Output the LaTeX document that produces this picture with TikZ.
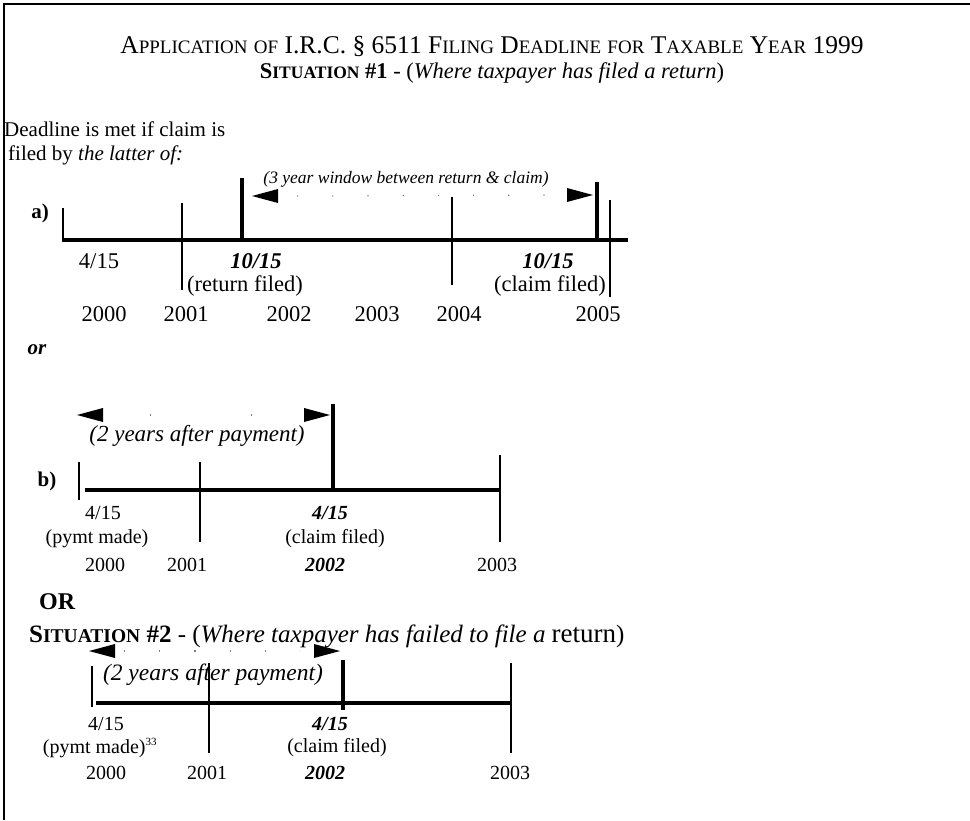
\documentclass[tikz,border=0pt]{standalone}
\usepackage{fontspec}
\setmainfont{Liberation Serif}
\newcommand\lc[1]{{\fontsize{19}{19}\selectfont #1}}
\newcommand\lcb[1]{{\fontsize{17.5}{17.5}\selectfont #1}}
\newcommand\lcc[1]{{\fontsize{19.5}{19.5}\selectfont #1}}
\begin{document}
\begin{tikzpicture}[x=1pt,y=-1pt,
  txt/.style={inner sep=0pt,font=\fontsize{21}{23}\selectfont},
  lab/.style={inner sep=0pt,font=\fontsize{22.5}{24}\selectfont},
  labbi/.style={inner sep=0pt,font=\fontsize{22.5}{24}\selectfont\bfseries\itshape},
  slab/.style={inner sep=0pt,font=\fontsize{20}{22}\selectfont},
  slabbi/.style={inner sep=0pt,font=\fontsize{20}{22}\selectfont\bfseries\itshape},
  axis/.style={line width=4pt},
  tick/.style={line width=1.2pt},
  bar/.style={line width=4.5pt},
  arrhead/.style={fill=black,draw=none},
  dots/.style={gray,line width=1.2pt,dash pattern=on 1.2pt off 34pt},
  frame/.style={line width=2.5pt}]
\useasboundingbox (0,0) rectangle (970,820);
% frame
\coordinate (fbl) at (4,820);
\coordinate (ftl) at (4,4);
\coordinate (ftr) at (970,4);
\draw[frame] (fbl) -- (ftl) -- (ftr);

% titles
\node[inner sep=0pt,font=\fontsize{25.5}{27}\selectfont] (t1) at (492,46)
  {A\lc{PPLICATION} \lc{OF} I.R.C. \S\ 6511 F\lc{ILING} D\lc{EADLINE} \lc{FOR} T\lc{AXABLE} Y\lc{EAR} 1999};
\node[inner sep=0pt,font=\fontsize{22.5}{24}\selectfont] (t2) at (492,73)
  {{\bfseries S\lcb{ITUATION} \#1} - (\textit{Where taxpayer has filed a return})};

\node[txt,anchor=west] (d1) at (4,129) {Deadline is met if claim is};
\node[txt,anchor=west] (d2) at (8,155) {filed by \textit{the latter of:}};

% ---------- timeline a ----------
\node[txt,font=\fontsize{21}{23}\selectfont\bfseries] (la) at (40,213) {a)};
\coordinate (a0) at (63,240);
\coordinate (a1) at (628,240);
\draw[axis] (a0) -- (a1);
\coordinate (at1a) at (63,208); \coordinate (at1b) at (63,242);
\coordinate (at2a) at (182,203); \coordinate (at2b) at (182,290);
\coordinate (at3a) at (452,197); \coordinate (at3b) at (452,285);
\coordinate (at4a) at (610,200); \coordinate (at4b) at (610,297);
\draw[tick] (at1a) -- (at1b);
\draw[tick] (at2a) -- (at2b);
\draw[tick] (at3a) -- (at3b);
\draw[tick] (at4a) -- (at4b);
\coordinate (ab1a) at (242,178); \coordinate (ab1b) at (242,240);
\coordinate (ab2a) at (597,182); \coordinate (ab2b) at (597,240);
\draw[bar] (ab1a) -- (ab1b);
\draw[bar] (ab2a) -- (ab2b);
\coordinate (aL) at (252,196); \coordinate (aR) at (593,195);
\fill[arrhead] (aL) -- ++(26,-7) -- ++(0,14) -- cycle;
\fill[arrhead] (aR) -- ++(-26,-7) -- ++(0,14) -- cycle;
\draw[dots] ([xshift=45pt]aL) -- ([xshift=-40pt]aR);
\node[inner sep=0pt,font=\fontsize{17.5}{19}\selectfont\itshape] (win) at (406,179) {(3 year window between return \& claim)};
\node[lab] (a415) at (99,261) {4/15};
\node[labbi] (a1015a) at (256,261) {10/15};
\node[lab] (aret) at (245,286) {(return filed)};
\node[labbi] (a1015b) at (548,261) {10/15};
\node[lab] (acl) at (550,286) {(claim filed)};
\node[lab] (ay0) at (104,314) {2000};
\node[lab] (ay1) at (186,314) {2001};
\node[lab] (ay2) at (289,314) {2002};
\node[lab] (ay3) at (377,314) {2003};
\node[lab] (ay4) at (459,314) {2004};
\node[lab] (ay5) at (598,314) {2005};

\node[txt,font=\fontsize{21}{23}\selectfont\bfseries\itshape] (or1) at (37,350) {or};

% ---------- timeline b ----------
\node[txt,font=\fontsize{21}{23}\selectfont\bfseries] (lb) at (47,481) {b)};
\coordinate (b0) at (85,490);
\coordinate (b1) at (500,490);
\draw[axis] (b0) -- (b1);
\coordinate (bt1a) at (79,462); \coordinate (bt1b) at (79,500);
\coordinate (bt2a) at (200,462); \coordinate (bt2b) at (200,542);
\coordinate (bt3a) at (500,455); \coordinate (bt3b) at (500,542);
\draw[tick] (bt1a) -- (bt1b);
\draw[tick] (bt2a) -- (bt2b);
\draw[tick] (bt3a) -- (bt3b);
\coordinate (bb1a) at (333,404); \coordinate (bb1b) at (333,490);
\draw[bar] (bb1a) -- (bb1b);
\coordinate (bL) at (77,415); \coordinate (bR) at (330,415);
\fill[arrhead] (bL) -- ++(26,-7) -- ++(0,14) -- cycle;
\fill[arrhead] (bR) -- ++(-26,-7) -- ++(0,14) -- cycle;
\draw[gray,line width=1.2pt,dash pattern=on 1.2pt off 100pt] ([xshift=73pt]bL) -- ([xshift=-60pt]bR);
\node[inner sep=0pt,font=\fontsize{23}{25}\selectfont\itshape] (b2y) at (197,436) {(2 years after payment)};
\node[slab] (b415) at (103,513) {4/15};
\node[slab] (bpy) at (97,539) {(pymt made)};
\node[slab] (by0) at (105,565) {2000};
\node[slab] (by1) at (187,565) {2001};
\node[slabbi] (b415c) at (330,513) {4/15};
\node[slab] (bcl) at (335,539) {(claim filed)};
\node[slabbi] (by2) at (325,565) {2002};
\node[slab] (by3) at (497,565) {2003};

\node[txt,font=\fontsize{24}{26}\selectfont\bfseries,anchor=west] (or2) at (39,602) {OR};

% ---------- situation 2 ----------
\node[inner sep=0pt,font=\fontsize{25}{27}\selectfont,anchor=west] (s2) at (29,636)
  {{\bfseries S\lcc{ITUATION} \#2} - (\textit{Where taxpayer has failed to file a} {\fontsize{27}{27}\selectfont return})};
\coordinate (c0) at (96,703);
\coordinate (c1) at (511,703);
\draw[axis] (c0) -- (c1);
\coordinate (ct1a) at (92,666); \coordinate (ct1b) at (92,707);
\coordinate (ct2a) at (209,663); \coordinate (ct2b) at (209,753);
\coordinate (ct3a) at (511,663); \coordinate (ct3b) at (511,753);
\draw[tick] (ct1a) -- (ct1b);
\draw[tick] (ct2a) -- (ct2b);
\draw[tick] (ct3a) -- (ct3b);
\coordinate (cb1a) at (343,660); \coordinate (cb1b) at (343,710);
\draw[bar] (cb1a) -- (cb1b);
\coordinate (cL) at (89,651); \coordinate (cR) at (340,651);
\fill[arrhead] (cL) -- ++(26,-7) -- ++(0,14) -- cycle;
\fill[arrhead] (cR) -- ++(-26,-7) -- ++(0,14) -- cycle;
\draw[dots] ([xshift=35pt]cL) -- ([xshift=-40pt]cR);
\node[inner sep=0pt,font=\fontsize{23.5}{25}\selectfont\itshape] (c2y) at (213,675) {(2 years after payment)};
\node[slab] (c415) at (106,724) {4/15};
\node[slab] (cpy) at (100,748) {(pymt made)\textsuperscript{\fontsize{11}{11}\selectfont 33}};
\node[slab] (cy0) at (106,773) {2000};
\node[slab] (cy1) at (207,773) {2001};
\node[slabbi] (c415c) at (330,724) {4/15};
\node[slab] (ccl) at (337,748) {(claim filed)};
\node[slabbi] (cy2) at (325,773) {2002};
\node[slab] (cy3) at (510,773) {2003};
\end{tikzpicture}
\end{document}
